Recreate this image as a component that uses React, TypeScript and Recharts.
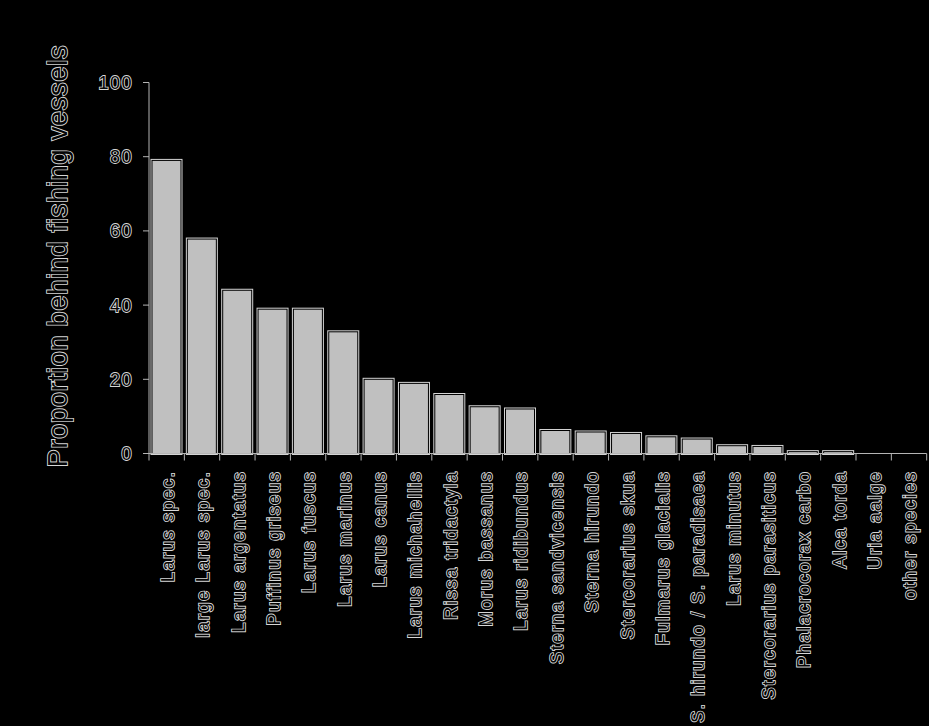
import React from 'react';
import { BarChart, Bar, XAxis, YAxis } from 'recharts';

const categories = [
  'Larus spec.',
  'large Larus spec.',
  'Larus argentatus',
  'Puffinus griseus',
  'Larus fuscus',
  'Larus marinus',
  'Larus canus',
  'Larus michahellis',
  'Rissa tridactyla',
  'Morus bassanus',
  'Larus ridibundus',
  'Sterna sandvicensis',
  'Sterna hirundo',
  'Stercorarius skua',
  'Fulmarus glacialis',
  'S. hirundo / S. paradisaea',
  'Larus minutus',
  'Stercorarius parasiticus',
  'Phalacrocorax carbo',
  'Alca torda',
  'Uria aalge',
  'other species',
];

const proportions = [
  79, 57.8, 44, 38.9, 38.9, 32.8, 20, 18.9, 15.9, 12.6, 12, 6.2, 5.8, 5.4, 4.5, 3.9, 2.1, 1.9, 0.5, 0.5, 0, 0,
];

const yTicks = [0, 20, 40, 60, 80, 100];
const yLabel = 'Proportion behind fishing vessels';

const data = categories.map((species, i) => ({ species, value: proportions[i] }));

const FONT = '"Liberation Sans", Arial, Helvetica, sans-serif';
const AXIS = '#b4b4b4';
const textStyle: React.CSSProperties = {
  fill: '#050505',
  stroke: '#d6d6d6',
  strokeWidth: 1.8,
  paintOrder: 'stroke',
  fontFamily: FONT,
};

const BarShape = (props: any) => {
  const { x, y, width, height } = props;
  if (!height || height <= 0) return null;
  return (
    <g>
      <rect x={x} y={y} width={width} height={height} fill="none" stroke="#d4d4d4" strokeWidth={3} />
      <rect x={x} y={y} width={width} height={height} fill="#c0c0c0" stroke="#000" strokeWidth={1} />
    </g>
  );
};

const XTick = (props: any) => {
  const { x, y, payload, index, visibleTicksCount } = props;
  const half = payload && payload.offset ? payload.offset : (929 - 149 - 2.3) / 44;
  const isLast = index === (visibleTicksCount ?? categories.length) - 1;
  return (
    <g transform={`translate(${x},${y})`}>
      <line x1={-half} y1={0} x2={-half} y2={7} stroke={AXIS} strokeWidth={1} />
      {isLast && <line x1={half} y1={0} x2={half} y2={7} stroke={AXIS} strokeWidth={1} />}
      <text
        x={-17}
        y={1}
        dy="0.35em"
        textAnchor="end"
        transform="rotate(-90)"
        fontSize={18}
        letterSpacing={1.7}
        style={textStyle}
      >
        {payload.value}
      </text>
    </g>
  );
};

const YTick = (props: any) => {
  const { x, y, payload } = props;
  return (
    <text x={x} y={y} dy="0.36em" textAnchor="end" fontSize={18} letterSpacing={1.5} style={textStyle}>
      {payload.value}
    </text>
  );
};

const YLabel = (props: any) => {
  const vb = props.viewBox || { x: 0, y: 82.5, width: 149, height: 371 };
  const cx = 58;
  const cy = vb.y + vb.height / 2 - 12;
  return (
    <text
      x={cx}
      y={cy}
      dy="0.35em"
      textAnchor="middle"
      transform={`rotate(-90, ${cx}, ${cy})`}
      fontSize={27}
      letterSpacing={0.8}
      style={textStyle}
    >
      {yLabel}
    </text>
  );
};

export default function App() {
  return (
    <div style={{ position: 'absolute', left: 0, top: 0, width: 929, height: 726, background: '#000' }}>
      <BarChart
        width={929}
        height={726}
        data={data}
        margin={{ top: 82.5, right: 2.3, bottom: 0, left: 0 }}
        barCategoryGap={3}
      >
        <XAxis
          dataKey="species"
          type="category"
          interval={0}
          height={272.5}
          tickSize={0}
          tickMargin={0}
          tickLine={false}
          axisLine={{ stroke: AXIS, strokeWidth: 1 }}
          tick={<XTick />}
        />
        <YAxis
          type="number"
          domain={[0, 100]}
          ticks={yTicks}
          interval={0}
          width={149}
          tickSize={6}
          tickMargin={10}
          axisLine={{ stroke: AXIS, strokeWidth: 1 }}
          tickLine={{ stroke: AXIS, strokeWidth: 1 }}
          tick={<YTick />}
          label={<YLabel />}
        />
        <Bar dataKey="value" isAnimationActive={false} shape={<BarShape />} />
      </BarChart>
    </div>
  );
}
